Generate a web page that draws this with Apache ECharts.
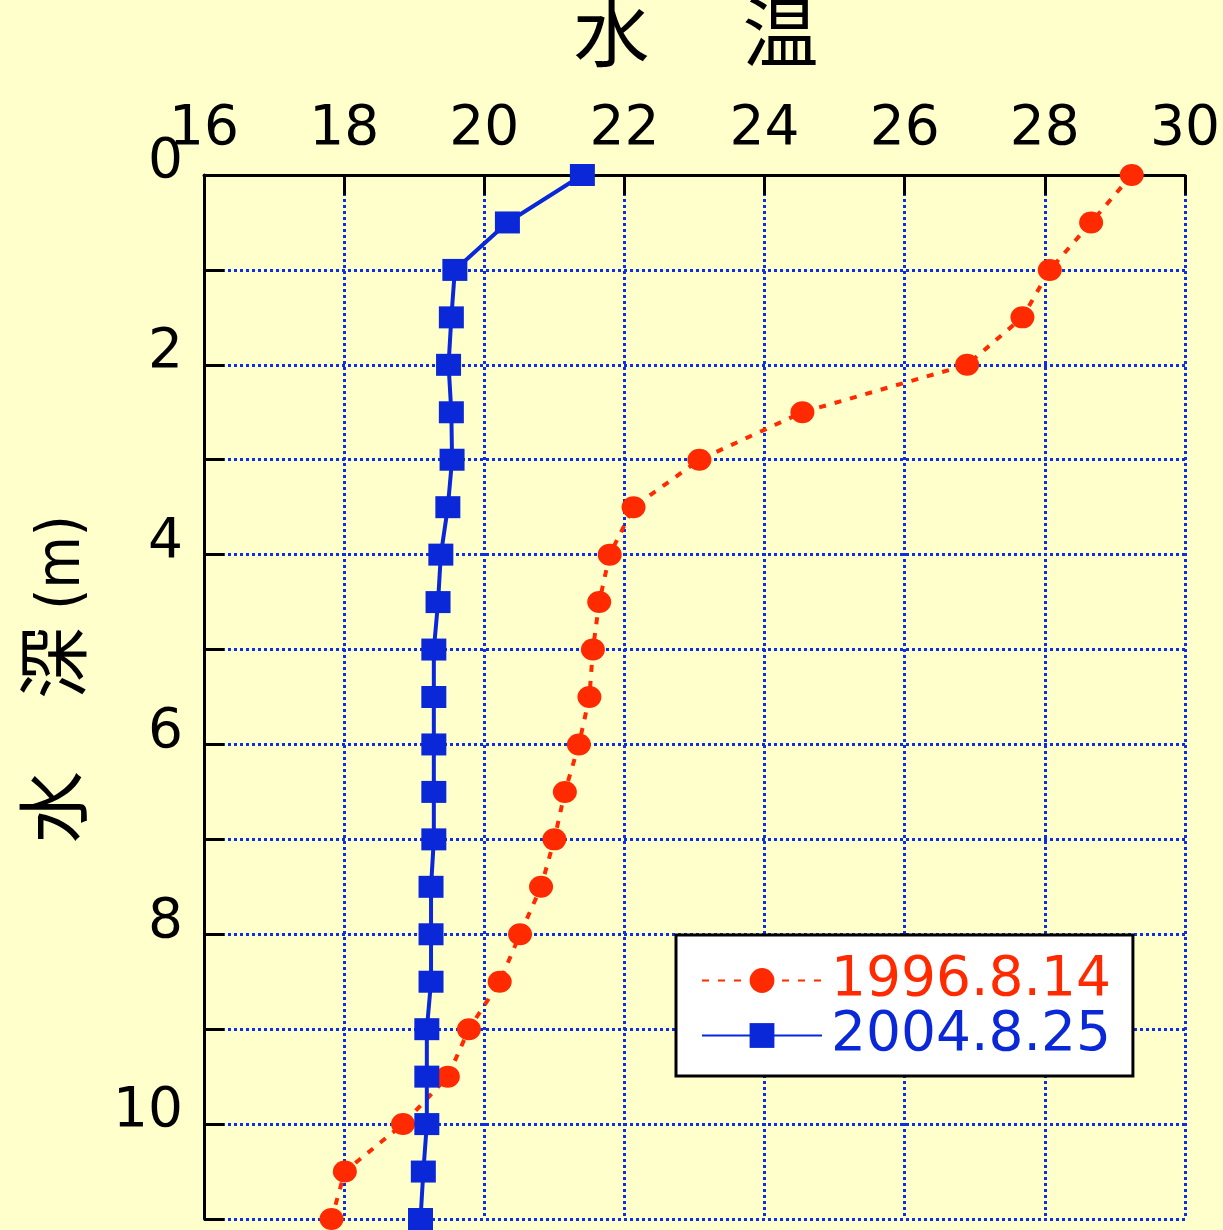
<!DOCTYPE html>
<html>
<head>
<meta charset="utf-8">
<script src="https://cdn.jsdelivr.net/npm/echarts@6/dist/echarts.min.js"></script>
<style>
html,body{margin:0;padding:0;background:#ffffcc;}
#chart{width:1223px;height:1230px;}
</style>
</head>
<body>
<div id="chart"></div>
<script>
// depth (m)
const depths = [0, 0.5, 1, 1.5, 2, 2.5, 3, 3.5, 4, 4.5, 5, 5.5, 6, 6.5, 7, 7.5, 8, 8.5, 9, 9.5, 10, 10.5, 11];
// water temperature 1996.8.14
const temp1996 = [29.24, 28.66, 28.07, 27.68, 26.89, 24.54, 23.07, 22.13, 21.79, 21.64, 21.55, 21.50, 21.35, 21.15, 21.00, 20.81, 20.51, 20.22, 19.78, 19.48, 18.84, 18.01, 17.82];
// water temperature 2004.8.25
const temp2004 = [21.40, 20.33, 19.58, 19.53, 19.49, 19.53, 19.54, 19.48, 19.38, 19.34, 19.28, 19.28, 19.28, 19.28, 19.28, 19.24, 19.24, 19.24, 19.18, 19.18, 19.18, 19.13, 19.09];
const seriesNames = ['1996.8.14', '2004.8.25'];
const xTicks = {min: 16, max: 30, interval: 2};
const yTicks = {min: 0, max: 11, interval: 1, labelEvery: 2};
const titleText = '水　 温';

const RED = '#ff2a00';
const BLUE = '#0a28d8';
const GRIDC = '#0b2ee6';
const numFont = 'DejaVu Sans';
const cjkFont = 'Noto Sans CJK JP';

const chart = echarts.init(document.getElementById('chart'), null, {renderer: 'canvas'});
const option = {
  backgroundColor: '#ffffcc',
  animation: false,
  title: {
    text: titleText,
    left: 696,
    textAlign: 'center',
    top: -6,
    padding: 0,
    textStyle: {fontFamily: cjkFont, fontSize: 76, fontWeight: 'normal', color: '#000'}
  },
  graphic: [{
    type: 'text',
    x: 53,
    y: 679,
    rotation: Math.PI / 2,
    style: {
      text: '{a|水　深}{b| (m)}',
      align: 'center',
      verticalAlign: 'middle',
      fill: '#000',
      rich: {
        a: {fontFamily: cjkFont, fontSize: 72, fill: '#000'},
        b: {fontFamily: "'Liberation Sans Narrow', 'DejaVu Sans Condensed', sans-serif", fontSize: 60, fill: '#000', padding: [20, 0, 0, 0]}
      }
    }
  }],
  grid: {left: 204, right: 37, top: 175, bottom: 11, containLabel: false},
  legend: {
    orient: 'vertical',
    left: 676,
    top: 935,
    padding: [18, 22, 13, 25],
    itemGap: 0,
    itemWidth: 120,
    itemHeight: 31,
    backgroundColor: '#ffffff',
    borderColor: '#000',
    borderWidth: 3,
    borderRadius: 0,
    selectedMode: false,
    textStyle: {fontFamily: numFont, fontSize: 55, lineHeight: 50, padding: [0, 0, 0, 4]},
    data: [
      {name: seriesNames[0], textStyle: {color: RED}},
      {name: seriesNames[1], textStyle: {color: BLUE}}
    ]
  },
  xAxis: {
    type: 'value',
    position: 'top',
    min: xTicks.min, max: xTicks.max, interval: xTicks.interval,
    axisLine: {show: true, onZero: false, lineStyle: {color: '#000', width: 3}},
    axisTick: {show: true, inside: true, length: 20, lineStyle: {color: '#000', width: 3}},
    axisLabel: {show: true, margin: 18, fontFamily: numFont, fontSize: 55, color: '#000', showMinLabel: true, showMaxLabel: true, hideOverlap: false},
    splitLine: {show: true, lineStyle: {color: GRIDC, width: 3, type: [3, 3]}}
  },
  yAxis: {
    type: 'value',
    inverse: true,
    min: yTicks.min, max: yTicks.max, interval: yTicks.interval,
    axisLine: {show: true, onZero: false, lineStyle: {color: '#000', width: 3}},
    axisTick: {show: true, inside: true, length: 20, lineStyle: {color: '#000', width: 3}},
    axisLabel: {
      show: true, margin: 21, fontFamily: numFont, fontSize: 55, color: '#000',
      verticalAlign: 'bottom', lineHeight: 24, showMinLabel: true, showMaxLabel: true, hideOverlap: false,
      formatter: function (v) { return (v % yTicks.labelEvery === 0) ? String(v) : ''; }
    },
    splitLine: {show: true, lineStyle: {color: GRIDC, width: 3, type: [3, 3]}}
  },
  series: [
    {
      name: seriesNames[0],
      type: 'line',
      clip: false,
      data: temp1996.map((t, i) => [t, depths[i]]),
      symbol: 'circle',
      symbolSize: [24, 22],
      itemStyle: {color: RED},
      lineStyle: {color: RED, width: 4, type: [7, 9]},
      z: 2
    },
    {
      name: seriesNames[1],
      type: 'line',
      clip: false,
      data: temp2004.map((t, i) => [t, depths[i]]),
      symbol: 'rect',
      symbolSize: [25, 22],
      itemStyle: {color: BLUE},
      lineStyle: {color: BLUE, width: 4, type: 'solid'},
      z: 3
    }
  ]
};
chart.setOption(option);
</script>
</body>
</html>
